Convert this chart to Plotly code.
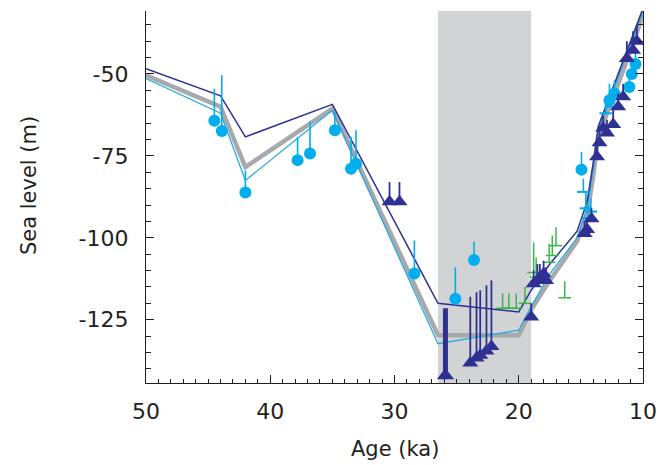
import plotly.graph_objects as go

# ---- model curves (age in ka, sea level in m) ----
line_age = [50, 44, 42, 35, 26.5, 20, 19, 17.5, 15.3, 14.5, 14.0, 13.6, 11.6, 10.0]
navy_line = [-48.4, -56.7, -69.2, -59.3, -120, -122.6, -116, -108, -98, -89, -77, -66, -46, -30]
gray_line = [-50.4, -60.0, -78.4, -60.6, -129.7, -129.7, -122, -113, -101, -93, -81, -69, -49, -32]
cyan_line = [-51.4, -62.0, -82.5, -61.1, -132.3, -128.2, -121, -111, -100, -91, -79, -67, -47, -31]

# ---- cyan circle data (value, upper end of bar) ----
cyan_age = [44.5, 43.9, 42.0, 37.8, 36.8, 34.8, 33.5, 33.1, 28.4, 25.1, 23.6, 14.95, 12.7, 12.3, 11.1, 10.9, 10.6]
cyan_sea = [-64.3, -67.4, -86.2, -76.3, -74.3, -67.2, -78.9, -77.4, -110.9, -118.6, -106.8, -79.2, -58, -56, -54, -50, -47]
cyan_top = [-54.5, -50.4, -79.5, -69.2, -64.4, -61.5, -69.2, -67.2, -100.8, -109, -101.2, -73.8, -53, -52, -49, -45, -43]

# ---- small cyan markers ----
cyan_s_age = [14.8, 14.6, 14.4, 14.2, 13.0, 12.6]
cyan_s_sea = [-86, -91, -94, -92, -62, -60]
cyan_s_top = [-82, -86, -90, -88, -58, -56]

# ---- navy triangles (value, upper end of bar) ----
navy_age = [30.4, 29.6, 23.9, 23.4, 23.1, 22.6, 22.2, 19.0, 18.8, 18.5, 18.3, 18.0, 17.8,
            14.7, 14.5, 14.15, 13.7, 13.5, 13.2, 12.9, 12.4, 12.0, 11.6, 11.3, 10.8, 10.5]
navy_sea = [-89, -89, -138.2, -136.7, -135.8, -134.5, -133.2, -124.2, -114, -113, -112, -111, -113,
            -98.7, -97.5, -94.2, -75.3, -71, -66.5, -68, -65.4, -60, -57, -45.3, -42.8, -40]
navy_top = [-83, -83, -118, -116.6, -116, -114.5, -113, -120, -110, -108, -108, -107, -109,
            -95, -94, -91, -70, -67, -63, -64, -60, -56, -53, -40, -37, -35]

# ---- navy thick bar ----
thick_age = [25.9]
thick_sea = [-142]
thick_top = [-121.5]

# ---- green data (lower end with cap, upper end) ----
green_age = [21.3, 20.8, 20.2, 19.5, 18.8, 18.6, 17.55, 17.3, 17.0, 16.3]
green_low = [-121.5, -121.5, -121.5, -120, -110.6, -112, -107.5, -105.4, -102.4, -118.3]
green_top = [-117, -117, -117, -115, -101.4, -106, -101.8, -99.3, -96.8, -113.2]

# ---- shaded interval ----
lgm_start = 26.5
lgm_end = 19.0

# ---- tick labels ----
x_ticks = [50, 40, 30, 20, 10]
x_labels = ["50", "40", "30", "20", "10"]
y_ticks = [-50, -75, -100, -125]
y_labels = ["-50", "-75", "-100", "-125"]

NAVY = "#2E3192"
CYAN = "#00AEEF"
CYAN_LINE = "#29ABE2"
GRAY = "#A7A9AC"
GREEN = "#39B54A"
INK = "#231F20"

def up(vals, tops):
    return [t - v for v, t in zip(vals, tops)]

fig = go.Figure()

fig.add_trace(go.Scatter(x=line_age, y=gray_line, mode="lines",
                         line=dict(color=GRAY, width=4.5), showlegend=False))
fig.add_trace(go.Scatter(x=line_age, y=cyan_line, mode="lines",
                         line=dict(color=CYAN_LINE, width=1.3), showlegend=False))
fig.add_trace(go.Scatter(x=line_age, y=navy_line, mode="lines",
                         line=dict(color=NAVY, width=1.5), showlegend=False))

fig.add_trace(go.Scatter(
    x=green_age, y=green_low, mode="markers",
    marker=dict(symbol="line-ew-open", size=9, color=GREEN, line=dict(color=GREEN, width=1.5)),
    error_y=dict(type="data", symmetric=False, array=up(green_low, green_top),
                 arrayminus=[0] * len(green_age), width=0, thickness=1.5, color=GREEN),
    showlegend=False))

fig.add_trace(go.Scatter(
    x=cyan_age, y=cyan_sea, mode="markers",
    marker=dict(symbol="circle", size=12, color=CYAN),
    error_y=dict(type="data", symmetric=False, array=up(cyan_sea, cyan_top),
                 arrayminus=[0] * len(cyan_age), width=0, thickness=1.6, color=CYAN),
    showlegend=False))

fig.add_trace(go.Scatter(
    x=cyan_s_age, y=cyan_s_sea, mode="markers",
    marker=dict(symbol="line-ew-open", size=9, color=CYAN, line=dict(color=CYAN, width=2)),
    error_y=dict(type="data", symmetric=False, array=up(cyan_s_sea, cyan_s_top),
                 arrayminus=[0] * len(cyan_s_age), width=0, thickness=1.6, color=CYAN),
    showlegend=False))

fig.add_trace(go.Scatter(
    x=thick_age, y=thick_sea, mode="markers",
    marker=dict(symbol="triangle-up", size=15, color=NAVY),
    error_y=dict(type="data", symmetric=False, array=up(thick_sea, thick_top),
                 arrayminus=[0], width=0, thickness=5, color=NAVY),
    showlegend=False))

fig.add_trace(go.Scatter(
    x=navy_age, y=navy_sea, mode="markers",
    marker=dict(symbol="triangle-up", size=14, color=NAVY),
    error_y=dict(type="data", symmetric=False, array=up(navy_sea, navy_top),
                 arrayminus=[0] * len(navy_age), width=0, thickness=1.8, color=NAVY),
    showlegend=False))

fig.add_shape(type="rect", xref="x", yref="paper", x0=lgm_start, x1=lgm_end, y0=0, y1=1,
              fillcolor="#D1D3D4", line=dict(width=0), layer="below")

FONT = "DejaVu Sans"

fig.update_layout(
    width=660, height=465,
    margin=dict(l=146, r=17, t=11, b=82, autoexpand=False),
    paper_bgcolor="white", plot_bgcolor="white",
    font=dict(family=FONT, color=INK),
    xaxis=dict(range=[50, 10], tickmode="array", tickvals=x_ticks, ticktext=x_labels,
               ticks="inside", ticklen=8, tickwidth=1.2, tickcolor=INK, automargin=False,
               minor=dict(dtick=1, tick0=10, ticks="inside", ticklen=4, tickcolor=INK, tickwidth=1),
               showline=True, linecolor=INK, linewidth=1.3, showgrid=False, zeroline=False,
               tickfont=dict(size=22, family=FONT), ticklabelstandoff=8),
    xaxis2=dict(range=[50, 10], overlaying="x", side="top", tickmode="array", tickvals=x_ticks,
                ticks="inside", ticklen=8, tickwidth=1.2, tickcolor=INK, automargin=False,
                minor=dict(dtick=2, tick0=10, ticks="inside", ticklen=5, tickcolor=INK, tickwidth=1),
                showticklabels=False, showline=True, linecolor=INK, linewidth=1.3,
                showgrid=False, zeroline=False),
    yaxis=dict(range=[-144.3, -30.8], tickmode="array", tickvals=y_ticks, ticktext=y_labels,
               ticks="inside", ticklen=8, tickwidth=1.2, tickcolor=INK, automargin=False,
               minor=dict(dtick=5, tick0=-50, ticks="inside", ticklen=5, tickcolor=INK, tickwidth=1),
               showline=True, linecolor=INK, linewidth=1.3, mirror="allticks",
               showgrid=False, zeroline=False,
               tickfont=dict(size=22, family=FONT), ticklabelstandoff=12),
    annotations=[
        dict(text="Sea level (m)", xref="paper", yref="paper", x=-0.235, y=0.53,
             textangle=-90, showarrow=False, font=dict(size=21, family=FONT),
             xanchor="center", yanchor="middle"),
        dict(text="Age (ka)", xref="paper", yref="paper", x=0.5, y=-0.177,
             showarrow=False, font=dict(size=21, family=FONT),
             xanchor="center", yanchor="middle"),
    ],
)

fig.write_html("out.html")
